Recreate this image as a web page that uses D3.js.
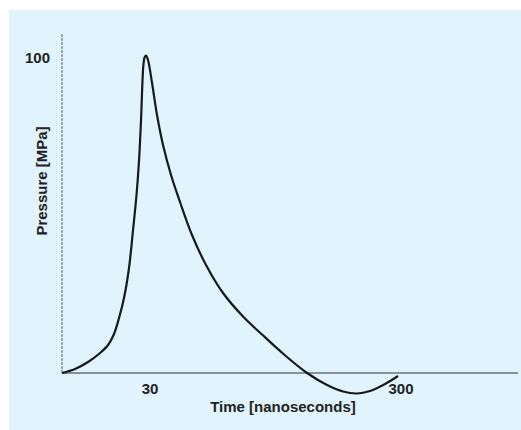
<!DOCTYPE html>
<html>
<head>
<meta charset="utf-8">
<script src="https://cdn.jsdelivr.net/npm/d3@7"></script>
<style>
  body { margin: 0; background: #fff; }
  svg { display: block; }
  text { font-family: "Liberation Sans", Arial, sans-serif; font-weight: bold; fill: #222; }
</style>
</head>
<body>
<div id="chart"></div>
<script>
// time in ns (log axis), pressure in MPa
const timeNs = [13.38, 15.08, 16.99, 18.97, 20.42, 21.56, 22.58, 23.63, 24.74, 25.67, 26.50,
                27.13, 27.62, 27.95, 28.21, 28.52, 28.92, 29.45, 30.56, 31.99, 33.80, 36.37,
                39.50, 44.09, 50.14, 58.61, 70.41, 83.81, 102.6, 126.7, 152.2, 176.2, 200.3,
                225.8, 259.1, 291.8];
const pressure = [0, 1.27, 3.48, 6.33, 8.86, 12.34, 17.41, 23.73, 33.23, 45.25, 56.33,
                  67.41, 80.06, 91.14, 97.15, 99.84, 100.47, 99.05, 91.77, 81.65, 72.15, 62.66,
                  54.11, 43.67, 34.18, 25.32, 17.88, 12.18, 5.85, 0, -3.80, -5.85, -6.49,
                  -5.70, -3.48, -0.95];
const xTicks = [30, 300];
const yTicks = [100];
const xDomain = [13.38, 877];
const yDomain = [0, 100];
const yAxisTop = 107.6;

const width = 521, height = 430;

const svg = d3.select("#chart").append("svg")
    .attr("width", width)
    .attr("height", height);

// panel background
svg.append("rect")
    .attr("x", 9)
    .attr("y", 10)
    .attr("width", width - 9)
    .attr("height", height - 10)
    .attr("fill", "#e1f3fd");

const x = d3.scaleLog().domain(xDomain).range([62, 518]);
const y = d3.scaleLinear().domain(yDomain).range([373, 57]);

// axes
svg.append("line")
    .attr("x1", x(xDomain[0])).attr("x2", x(xDomain[0]))
    .attr("y1", y(0)).attr("y2", y(yAxisTop))
    .attr("stroke", "#66737c")
    .attr("stroke-width", 1.2)
    .attr("stroke-dasharray", "3,1");

svg.append("line")
    .attr("x1", x(xDomain[0])).attr("x2", x(xDomain[1]))
    .attr("y1", y(0)).attr("y2", y(0))
    .attr("stroke", "#66737c")
    .attr("stroke-width", 1.5);

// tick labels
svg.selectAll(".xtick")
  .data(xTicks)
  .join("text")
    .attr("class", "xtick")
    .attr("x", d => x(d))
    .attr("y", 394)
    .attr("text-anchor", "middle")
    .style("font-size", "15px")
    .text(d => d);

svg.selectAll(".ytick")
  .data(yTicks)
  .join("text")
    .attr("class", "ytick")
    .attr("x", 50)
    .attr("y", d => y(d) + 6)
    .attr("text-anchor", "end")
    .style("font-size", "15px")
    .text(d => d);

// axis titles
svg.append("text")
    .attr("x", 283)
    .attr("y", 412)
    .attr("text-anchor", "middle")
    .style("font-size", "15px")
    .text("Time [nanoseconds]");

svg.append("text")
    .attr("transform", "translate(47,181) rotate(-90)")
    .attr("text-anchor", "middle")
    .style("font-size", "15px")
    .text("Pressure [MPa]");

// pressure curve
const line = d3.line()
    .x((d, i) => x(timeNs[i]))
    .y(d => y(d))
    .curve(d3.curveCatmullRom.alpha(0.5));

svg.append("path")
    .datum(pressure)
    .attr("d", line)
    .attr("fill", "none")
    .attr("stroke", "#151a1d")
    .attr("stroke-width", 2.2);
</script>
</body>
</html>
